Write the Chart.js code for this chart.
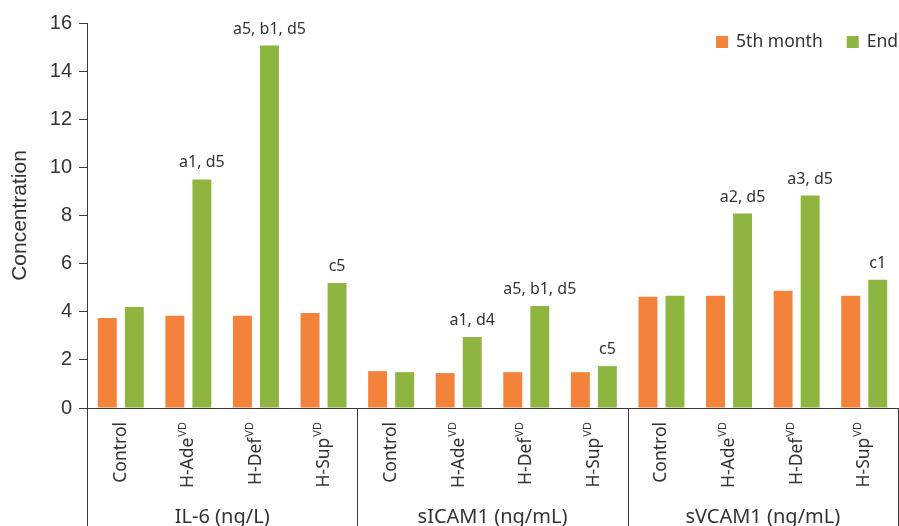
<!DOCTYPE html>
<html>
<head>
<meta charset="utf-8">
<script src="https://cdn.jsdelivr.net/npm/chart.js@4/dist/chart.umd.min.js"></script>
<style>
  body { margin: 0; background: #fff; }
  #wrap { width: 899px; height: 526px; }
</style>
</head>
<body>
<div id="wrap"><canvas id="myChart"></canvas></div>
<script>
// data
const groups = ['IL-6 (ng/L)', 'sICAM1 (ng/mL)', 'sVCAM1 (ng/mL)'];
const categories = ['Control', 'H-Ade', 'H-Def', 'H-Sup'];
const supers = ['', 'VD', 'VD', 'VD'];
const month5 = [3.74, 3.83, 3.83, 3.95, 1.53, 1.45, 1.49, 1.49, 4.62, 4.66, 4.87, 4.66];
const endVals = [4.20, 9.50, 15.06, 5.20, 1.49, 2.95, 4.24, 1.74, 4.66, 8.08, 8.83, 5.33];
const notes = ['', 'a1, d5', 'a5, b1, d5', 'c5', '', 'a1, d4', 'a5, b1, d5', 'c5', '', 'a2, d5', 'a3, d5', 'c1'];
const yTicks = [0, 2, 4, 6, 8, 10, 12, 14, 16];

const orange = '#F3823A';
const green = '#8DB540';
const textColor = '#333333';
const axisColor = '#3a3a3a';
const fontName = '"Noto Sans", sans-serif';
const axisFont = '"Liberation Sans", Arial, sans-serif';

let labels = [];
let subs = [];
for (let g in groups) {
  for (let c in categories) {
    labels.push(categories[c]);
    subs.push(supers[c]);
  }
}

// labels under the axis, notes over the bars, group lines, legend
const extras = {
  id: 'extras',
  afterDraw(chart) {
    const ctx = chart.ctx;
    const area = chart.chartArea;
    const x = chart.scales.x;

    ctx.save();
    ctx.fillStyle = textColor;

    // notes above the green bars
    ctx.font = '16px ' + fontName;
    ctx.textAlign = 'center';
    ctx.textBaseline = 'alphabetic';
    chart.getDatasetMeta(1).data.forEach((bar, i) => {
      if (notes[i]) ctx.fillText(notes[i], bar.x, bar.y - 12);
    });

    // group separators
    ctx.strokeStyle = axisColor;
    ctx.lineWidth = 1;
    for (let g = 0; g <= groups.length; g++) {
      let px = Math.round(x.getPixelForValue(g * categories.length - 0.5)) + 0.5;
      ctx.beginPath();
      ctx.moveTo(px, area.bottom);
      ctx.lineTo(px, chart.height);
      ctx.stroke();
    }

    // rotated category labels with superscript
    for (let i = 0; i < labels.length; i++) {
      let cx = x.getPixelForValue(i);
      ctx.save();
      ctx.translate(cx, area.bottom + 14);
      ctx.rotate(-Math.PI / 2);
      ctx.font = '17.5px ' + fontName;
      let w1 = ctx.measureText(labels[i]).width;
      ctx.font = '11px ' + fontName;
      let w2 = subs[i] ? ctx.measureText(subs[i]).width + 1 : 0;
      ctx.textAlign = 'left';
      ctx.textBaseline = 'middle';
      ctx.font = '17.5px ' + fontName;
      ctx.fillText(labels[i], -(w1 + w2), 0);
      if (subs[i]) {
        ctx.font = '11px ' + fontName;
        ctx.fillText(subs[i], -w2 + 1, -6);
      }
      ctx.restore();
    }

    // group names
    ctx.font = '20px ' + fontName;
    ctx.textAlign = 'center';
    ctx.textBaseline = 'middle';
    for (let g = 0; g < groups.length; g++) {
      let a = x.getPixelForValue(g * categories.length - 0.5);
      let b = x.getPixelForValue((g + 1) * categories.length - 0.5);
      ctx.fillText(groups[g], (a + b) / 2, area.bottom + 109);
    }

    // legend, top right
    ctx.font = '17.5px ' + fontName;
    ctx.textAlign = 'left';
    const sets = chart.data.datasets;
    let total = 0;
    sets.forEach((d, i) => {
      total += 12 + 8 + ctx.measureText(d.label).width + (i < sets.length - 1 ? 24 : 0);
    });
    let lx = 898 - total;
    const ly = 42;
    sets.forEach((d) => {
      ctx.fillStyle = d.backgroundColor;
      ctx.fillRect(lx, ly - 6, 12, 12);
      ctx.fillStyle = textColor;
      ctx.fillText(d.label, lx + 20, ly);
      lx += 20 + ctx.measureText(d.label).width + 24;
    });

    ctx.restore();
  }
};

let myChart = {
  type: 'bar',
  data: {
    labels: labels,
    datasets: [{
      label: '5th month',
      data: month5,
      backgroundColor: orange,
      categoryPercentage: 0.8,
      barPercentage: 0.7
    }, {
      label: 'End',
      data: endVals,
      backgroundColor: green,
      categoryPercentage: 0.8,
      barPercentage: 0.7
    }]
  },
  options: {
    responsive: true,
    maintainAspectRatio: false,
    animation: false,
    layout: { padding: { top: 23, right: 1, bottom: 110, left: 0 } },
    plugins: {
      legend: { display: false },
      tooltip: { enabled: false }
    },
    scales: {
      x: {
        grid: { display: false },
        ticks: { display: false },
        border: { display: true, color: axisColor, width: 1 }
      },
      y: {
        min: 0,
        max: 16,
        afterBuildTicks: (scale) => { scale.ticks = yTicks.map(v => ({ value: v })); },
        afterFit: (scale) => { scale.width = 87; },
        grid: { display: true, drawOnChartArea: false, drawTicks: true, tickLength: 8, color: axisColor },
        border: { display: true, color: axisColor, width: 1 },
        ticks: { color: textColor, padding: 7, font: { family: axisFont, size: 20 } },
        title: {
          display: true,
          text: 'Concentration',
          color: textColor,
          padding: { top: 8, bottom: 0 },
          font: { family: axisFont, size: 21 }
        }
      }
    }
  },
  plugins: [extras]
};

Chart.defaults.font.family = fontName;
new Chart(document.getElementById('myChart'), myChart);
</script>
</body>
</html>
